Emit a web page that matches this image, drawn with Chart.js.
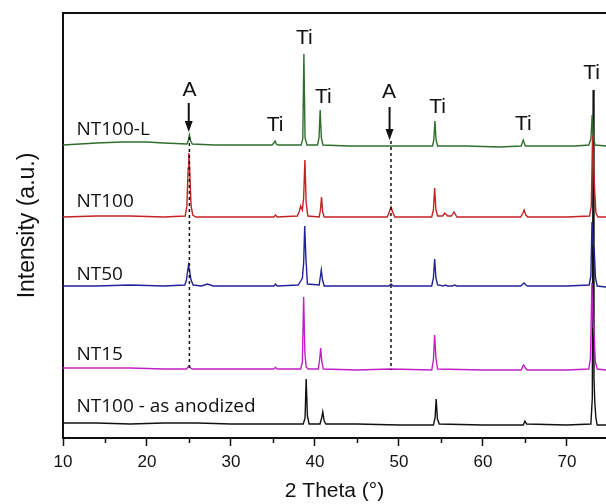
<!DOCTYPE html>
<html>
<head>
<meta charset="utf-8">
<script src="https://cdn.jsdelivr.net/npm/chart.js@4/dist/chart.umd.min.js"></script>
<style>
  body { margin: 0; background: #fff; }
  #wrap { width: 606px; height: 504px; }
</style>
</head>
<body>
<div id="wrap"><canvas id="xrdChart" width="606" height="504"></canvas></div>
<script>
// stacked XRD patterns, intensity in arbitrary units (already offset)
const nt100L = [[10,293],[12,294],[14,295],[17,296],[20,296],[22,295],[24.75,294],[24.9,297],[25.05,303],[25.2,297],[25.4,294],
  [28,293],[31,293],[34.9,293],[35.1,295],[35.25,297],[35.4,294],[35.6,293],
  [38.35,293],[38.55,299],[38.68,384],[38.82,300],[39.05,293],
  [40.3,293],[40.48,300],[40.62,328],[40.76,300],[40.95,293],
  [44,292],[48,292],[52,292],[54.0,292],[54.15,298],[54.28,317],[54.42,298],[54.6,292],
  [58,292],[62,291],[64.55,292],[64.8,298],[65.05,292],[68,292],[71,292],[72.6,293],[72.85,299],[73.0,323],[73.15,301],[73.35,293],[74.65,292]]

const nt100 = [[10,221],[14,222],[18,222],[22,221],[24.55,222],[24.75,232],[24.9,270],[24.98,285],[25.08,268],[25.25,232],[25.45,223],[25.8,221],
  [30,221],[35.1,221],[35.3,223],[35.5,221],[37.9,222],[38.15,227],[38.3,232],[38.5,228],[38.65,240],[38.8,278],[38.95,236],[39.15,222],
  [40.5,221],[40.65,228],[40.78,241],[40.92,226],[41.1,221],
  [45,221],[48.6,221],[48.85,226],[49.05,231],[49.25,226],[49.5,221],
  [53.9,221],[54.1,228],[54.25,250],[54.4,228],[54.6,222],[55.2,222],[55.45,225],[55.8,222],[56.25,222],[56.55,226],[56.9,221],
  [60,221],[64.5,221],[64.75,225],[64.9,228],[65.1,223],[65.35,221],[70,221],[72.7,222],[72.9,232],[73.05,303],[73.2,268],[73.3,248],[73.45,225],[73.7,221],[74.65,221]]

const nt50 = [[10,152],[14,152],[18,153],[22,152],[24.5,153],[24.7,158],[24.85,168],[24.95,173],[25.05,168],[25.25,158],[25.5,153],[26.5,152],[27.2,154],[27.9,152],
  [32,152],[35.1,152],[35.3,154],[35.5,152],[38.0,153],[38.3,157],[38.5,160],[38.65,175],[38.78,212],[38.92,180],[39.1,154],
  [40.5,153],[40.62,160],[40.75,168],[40.9,158],[41.1,152],
  [45,152],[48.8,152],[49.05,154],[49.3,152],[53.9,152],[54.1,160],[54.25,179],[54.4,160],[54.6,153],[55.3,152],[55.5,153],[55.8,152],[56.4,152],[56.6,153],[56.9,152],
  [60,152],[64.5,152],[64.75,154],[64.88,155],[65.1,153],[65.3,152],[70,152],[72.65,153],[72.85,162],[72.98,216],[73.12,195],[73.25,188],[73.4,160],[73.6,152],[74.65,151]]

const nt15 = [[10,70],[14,70],[18,70],[22,69],[24.7,69],[24.9,71],[25.02,72],[25.2,70],[25.4,69],
  [30,69],[35.1,69],[35.3,70.5],[35.5,69],[38.3,69],[38.5,76],[38.65,141],[38.8,85],[38.95,71],[39.2,69],
  [40.4,69],[40.55,78],[40.68,90],[40.82,76],[41.0,69],
  [45,68],[49,69],[53.9,68],[54.1,78],[54.25,103],[54.4,80],[54.6,69],
  [60,68],[64.55,68],[64.75,72],[64.85,73],[65.05,70],[65.25,68],[70,68],[72.6,69],[72.8,80],[72.97,155],[73.12,112],[73.22,108],[73.38,76],[73.6,69],[74.65,68]]

const nt100Anodized = [[10,15],[14,15],[18,14],[22,15],[26,15],[30,14],[34,14],[38.6,14],[38.82,20],[38.95,59],[39.1,22],[39.3,14],
  [40.6,14],[40.8,20],[40.93,26],[41.1,17],[41.3,14],
  [45,14],[50,13],[54.1,13],[54.3,20],[54.43,39],[54.58,19],[54.8,14],
  [60,13],[64.8,13],[65.0,17],[65.2,14],[70,13],[72.85,14],[73.02,40],[73.12,348],[73.22,60],[73.32,35],[73.45,20],[73.6,13],[74.65,13]]

const sampleNames = ["NT100-L", "NT100", "NT50", "NT15", "NT100 - as anodized"]
const sampleLabelY = [310, 238, 165, 85, 33]
const sampleLabelX = 11.6

// anatase guide lines and arrows
const anataseX = [25.05, 49.05]
const anataseLineTop = [301, 297]
const anataseLineBottom = [70, 68]
const arrowX = [24.97, 48.88]
const arrowTop = [335, 331]
const arrowTip = [306, 298]

const peakLabels = ["A", "Ti", "Ti", "Ti", "A", "Ti", "Ti", "Ti"]
const peakLabelX = [25.06, 35.24, 38.73, 40.99, 48.8, 54.6, 64.8, 72.93]
const peakLabelY = [349.5, 314.5, 401.5, 342.5, 347.5, 332.5, 316, 366.5]

const xTickValues = [10, 20, 30, 40, 50, 60, 70]
const xMinorTicks = [15, 25, 35, 45, 55, 65]

const seriesList = [nt100L, nt100, nt50, nt15, nt100Anodized]
const seriesColors = ["#2f6e2f", "#c42323", "#22229a", "#c21fc6", "#111111"]

const datasets = seriesList.map((s, i) => ({
  label: sampleNames[i],
  data: s,
  borderColor: seriesColors[i],
  borderWidth: 1.4,
  pointRadius: 0,
  tension: 0,
  order: i + 2
}))
anataseX.forEach((x, i) => {
  datasets.push({
    label: "anatase" + i,
    data: [[x, anataseLineTop[i]], [x, anataseLineBottom[i]]],
    borderColor: "#111",
    borderWidth: 1.5,
    borderDash: [3, 3],
    pointRadius: 0,
    order: 0
  })
})

const annotate = {
  id: "annotate",
  afterDraw(chart) {
    const ctx = chart.ctx
    const xs = chart.scales.x
    const ys = chart.scales.y
    const area = chart.chartArea
    ctx.save()
    // top frame line
    ctx.strokeStyle = "#111"
    ctx.lineWidth = 2
    ctx.beginPath()
    ctx.moveTo(area.left - 1, area.top)
    ctx.lineTo(chart.width, area.top)
    ctx.stroke()
    // minor ticks
    ctx.lineWidth = 1.5
    xMinorTicks.forEach(v => {
      const px = Math.round(xs.getPixelForValue(v)) + 0.5
      ctx.beginPath()
      ctx.moveTo(px, area.bottom)
      ctx.lineTo(px, area.bottom + 5)
      ctx.stroke()
    })
    // arrows
    ctx.fillStyle = "#111"
    arrowX.forEach((v, i) => {
      const px = xs.getPixelForValue(v)
      const y0 = ys.getPixelForValue(arrowTop[i])
      const y1 = ys.getPixelForValue(arrowTip[i])
      ctx.lineWidth = 2
      ctx.beginPath()
      ctx.moveTo(px, y0)
      ctx.lineTo(px, y1 - 10)
      ctx.stroke()
      ctx.beginPath()
      ctx.moveTo(px - 4, y1 - 11)
      ctx.lineTo(px + 4, y1 - 11)
      ctx.lineTo(px, y1)
      ctx.closePath()
      ctx.fill()
    })
    // peak labels
    ctx.font = "21px 'Liberation Sans', Arial, sans-serif"
    ctx.textAlign = "center"
    ctx.textBaseline = "alphabetic"
    peakLabels.forEach((t, i) => {
      ctx.fillText(t, xs.getPixelForValue(peakLabelX[i]), ys.getPixelForValue(peakLabelY[i]) + 7.5)
    })
    // sample names
    ctx.font = "19px 'Open Sans', sans-serif"
    ctx.textAlign = "left"
    sampleNames.forEach((t, i) => {
      ctx.fillText(t, xs.getPixelForValue(sampleLabelX), ys.getPixelForValue(sampleLabelY[i]) + 7)
    })
    ctx.restore()
  }
}

const xrdChart = new Chart(document.getElementById("xrdChart"), {
  type: "line",
  data: { datasets: datasets },
  options: {
    responsive: false,
    animation: false,
    layout: { padding: { top: 13, right: 0, left: 0, bottom: 0 } },
    plugins: { legend: { display: false }, tooltip: { enabled: false } },
    scales: {
      x: {
        type: "linear",
        min: 10,
        max: 74.65,
        afterFit: s => { s.height = 66 },
        afterBuildTicks: s => { s.ticks = xTickValues.map(v => ({ value: v })) },
        grid: { display: true, drawOnChartArea: false, drawTicks: true, tickLength: 8, tickWidth: 1.5, tickColor: "#111" },
        border: { display: true, color: "#111", width: 2 },
        ticks: { color: "#111", padding: 6, font: { family: "'Liberation Sans', Arial, sans-serif", size: 17 }, maxRotation: 0 },
        title: { display: true, text: "2 Theta (°)", color: "#111", padding: { top: 0, bottom: 0 }, font: { family: "'Liberation Sans', Arial, sans-serif", size: 21 } }
      },
      y: {
        min: 0,
        max: 425,
        afterFit: s => { s.width = 63 },
        grid: { display: false, drawTicks: false },
        border: { display: true, color: "#111", width: 2 },
        ticks: { display: false },
        title: { display: true, text: "Intensity (a.u.)", color: "#111", padding: { top: 14, bottom: 0 }, font: { family: "'Liberation Sans', Arial, sans-serif", size: 23 } }
      }
    }
  },
  plugins: [annotate]
})
</script>
</body>
</html>
